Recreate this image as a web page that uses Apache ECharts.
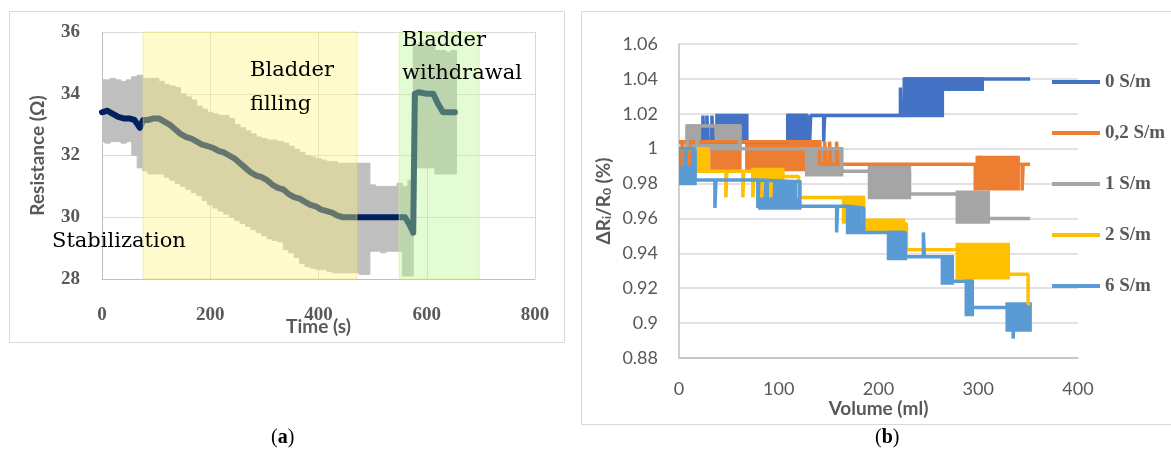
<!DOCTYPE html>
<html><head><meta charset="utf-8">
<script src="https://cdn.jsdelivr.net/npm/echarts/dist/echarts.min.js"></script>
<style>html,body{margin:0;padding:0;background:#fff}#c{width:1171px;height:457px}</style>
</head><body><div id="c"></div>
<script>
// ---------- Panel (a): resistance vs time ----------
const bandTime = [0,10,20,30,40,50,60,70,80,90,100,110,120,130,140,150,160,170,180,190,200,210,220,230,240,250,260,270,280,290,300,310,320,330,340,350,360,370,380,390,400,410,420,430,440,450,460,470,480,490,500,510,520,530,540,550,560,570,580,590,600,610,620,630,640,650];
const bandHigh = [34.45,34.45,34.5,34.45,34.4,34.45,34.55,34.6,34.5,34.5,34.5,34.4,34.3,34.25,34.2,34.0,33.9,33.8,33.6,33.5,33.4,33.35,33.3,33.3,33.2,33.0,32.9,32.8,32.7,32.6,32.55,32.5,32.5,32.45,32.4,32.3,32.2,32.1,32.0,31.95,31.9,31.85,31.8,31.8,31.75,31.75,31.75,31.75,31.75,31.75,31.05,31.0,31.0,31.0,31.0,31.1,31.0,31.2,35.6,35.65,35.6,35.6,35.4,35.4,35.35,35.4];
const bandLow = [32.45,32.4,32.45,32.45,32.4,32.45,32.0,31.6,31.5,31.4,31.4,31.4,31.3,31.2,31.1,31.0,30.9,30.8,30.7,30.55,30.4,30.3,30.2,30.1,30.0,29.9,29.8,29.7,29.6,29.5,29.4,29.3,29.25,29.2,28.95,28.85,28.7,28.5,28.4,28.35,28.3,28.3,28.25,28.2,28.2,28.2,28.2,28.2,28.15,28.15,28.9,28.9,28.85,28.9,28.9,28.9,28.1,28.1,31.6,31.6,31.6,31.6,31.4,31.4,31.4,31.4];
const meanTime = [0,10,20,30,40,50,60,66,70,76,85,95,105,115,125,135,145,155,165,175,185,195,205,215,225,235,245,255,265,275,285,295,305,315,325,335,345,355,365,375,385,395,405,415,425,435,445,460,480,500,520,540,560,570,575,578,585,600,612,620,630,652];
const meanRes = [33.4,33.45,33.35,33.25,33.2,33.2,33.15,33.0,32.9,33.15,33.15,33.2,33.2,33.1,33.0,32.85,32.7,32.6,32.55,32.45,32.35,32.3,32.25,32.15,32.1,32.0,31.9,31.75,31.6,31.45,31.35,31.3,31.2,31.05,30.95,30.9,30.75,30.65,30.6,30.5,30.4,30.35,30.25,30.2,30.15,30.05,30.0,30.0,30.0,30.0,30.0,30.0,30.0,29.7,29.5,34.0,34.05,34.0,34.0,33.7,33.4,33.4];
const phaseRegions = [[76,471],[549,697]];
const timeTicks = [0,200,400,600,800];
const resTicks = [28,30,32,34,36];

// ---------- Panel (b): ΔRi/R0 vs volume ----------
const seriesNames = ['0 S/m','0,2 S/m','1 S/m','2 S/m','6 S/m'];
// step traces [volume, value]
const line0 = [[0,1.004],[24,1.019],[25,1.004],[28,1.019],[29,1.004],[33,1.019],[34,1.004],[38,1.004],[68,1.004],[109,1.019],[128,1.004],[129,1.019],[131,1.004],[132,1.019],[145,1.004],[146,1.019],[222,1.035],[223,1.019],[226,1.04],[304,1.04],[352,1.04]];
const line02 = [[0,1.004],[3,0.99],[4,1.004],[10,0.99],[11,1.004],[33,1.004],[61,1.004],[68,1.004],[141,0.991],[146,1.004],[147,0.991],[151,1.004],[152,0.991],[158,1.004],[159,0.991],[297,0.976],[298,0.991],[302,0.996],[303,0.991],[344,0.976],[345,0.991],[352,0.991]];
const line1 = [[8,1.0],[9,1.013],[18,1.0],[19,1.013],[28,1.013],[61,1.0],[128,1.0],[163,0.987],[191,0.987],[231,0.974],[279,0.974],[310,0.96],[352,0.96]];
const line2 = [[0,1.0],[29,0.987],[47,0.972],[48,0.987],[64,0.972],[65,0.987],[74,0.972],[75,0.987],[83,0.972],[84,0.987],[92,0.972],[93,0.987],[104,0.984],[120,0.972],[165,0.972],[185,0.957],[228,0.942],[279,0.942],[330,0.928],[350,0.911],[352,0.911]];
const line6 = [[0,1.0],[16,0.982],[36,0.966],[37,0.982],[79,0.966],[80,0.982],[81,0.981],[121,0.967],[158,0.952],[159,0.967],[169,0.966],[185,0.952],[210,0.952],[227,0.938],[245,0.952],[246,0.938],[264,0.938],[274,0.924],[288,0.924],[294,0.909],[329,0.909],[335,0.891],[336,0.909],[352,0.909]];
// dense-flicker blocks [volStart, volEnd, low, high]
const blocks0 = [[38,68,1.004,1.019],[109,128,1.004,1.019],[226,264,1.019,1.04],[264,304,1.034,1.04]];
const blocks02 = [[33,61,0.988,1.004],[68,141,0.988,1.004],[299,340,0.977,0.995]];
const blocks1 = [[8,28,1.0,1.013],[28,61,1.0,1.013],[128,163,0.985,1.0],[191,231,0.972,0.989],[279,310,0.958,0.975]];
const blocks2 = [[0,29,0.987,1.0],[74,104,0.982,0.988],[165,185,0.958,0.972],[185,225,0.953,0.959],[279,330,0.926,0.945]];
const blocks6 = [[0,16,0.98,1.0],[81,121,0.966,0.981],[169,185,0.952,0.966],[210,227,0.937,0.952],[264,274,0.923,0.938],[288,294,0.905,0.924],[329,352,0.896,0.911]];
const volTicks = [0,100,200,300,400];

const colors = ['#4472C4','#ED7D31','#A5A5A5','#FFC000','#5B9BD5'];
const lines = [line0,line02,line1,line2,line6];
const blocks = [blocks0,blocks02,blocks1,blocks2,blocks6];

const chart = echarts.init(document.getElementById('c'), null, {renderer:'canvas'});
const grey = '#595959';

function blockRender(color){
  return function(params, api){
    const p1 = api.coord([api.value(0), api.value(3)]);
    const p2 = api.coord([api.value(1), api.value(2)]);
    return {type:'rect', shape:{x:p1[0], y:p1[1], width:p2[0]-p1[0], height:p2[1]-p1[1]},
      style:{fill:color, stroke:color, lineWidth:3.5}};
  };
}

const series = [];
// panel a band (error bars)
series.push({
  type:'custom', name:'band', xAxisIndex:0, yAxisIndex:0, clip:true, z:2,
  data: bandTime.map((t,i)=>[t, bandLow[i], bandHigh[i]]),
  encode:{x:0, y:[1,2]},
  renderItem: function(params, api){
    const p1 = api.coord([api.value(0)-5, api.value(2)]);
    const p2 = api.coord([api.value(0)+5, api.value(1)]);
    return {type:'rect', shape:{x:p1[0], y:p1[1], width:p2[0]-p1[0], height:p2[1]-p1[1]}, style:{fill:'#bfbfbf', stroke:'#bfbfbf', lineWidth:1}};
  }
});
series.push({
  type:'line', name:'mean', xAxisIndex:0, yAxisIndex:0, showSymbol:false, symbol:'none', z:3,
  data: meanTime.map((t,i)=>[t, meanRes[i]]),
  lineStyle:{color:'#002060', width:6, cap:'round', join:'round'}
});
series.push({
  type:'line', name:'phases', xAxisIndex:0, yAxisIndex:0, data:[], z:10,
  markArea:{silent:true, z:10, data:[
    [{xAxis:phaseRegions[0][0], itemStyle:{color:'rgba(255,245,130,0.4)', borderColor:'rgba(240,220,100,0.5)', borderWidth:1}},{xAxis:phaseRegions[0][1]}],
    [{xAxis:phaseRegions[1][0], itemStyle:{color:'rgba(188,248,148,0.4)', borderColor:'rgba(240,230,120,0.6)', borderWidth:1}},{xAxis:phaseRegions[1][1]}]
  ]}
});
// panel b
for (let k=0;k<5;k++){
  series.push({
    type:'line', name:seriesNames[k], xAxisIndex:1, yAxisIndex:1, step:'end', symbol:'none', showSymbol:false,
    data: lines[k], color: colors[k],
    lineStyle:{color:colors[k], width:3.5}
  });
  series.push({
    type:'custom', name:'blk'+k, xAxisIndex:1, yAxisIndex:1, clip:true,
    data: blocks[k], encode:{x:[0,1], y:[2,3]},
    renderItem: blockRender(colors[k])
  });
}

const option = {
  animation:false,
  backgroundColor:'#fff',
  grid:[
    {left:102, top:32, width:433, height:247, containLabel:false},
    {left:679, top:44, width:399, height:314, containLabel:false}
  ],
  xAxis:[
    {type:'value', gridIndex:0, min:timeTicks[0], max:timeTicks[timeTicks.length-1], interval:200,
     axisLine:{show:true, lineStyle:{color:'#bfbfbf', width:1}}, axisTick:{show:false},
     splitLine:{show:true, lineStyle:{color:'#d9d9d9'}},
     axisLabel:{fontFamily:'Liberation Serif', fontWeight:'bold', fontSize:19, color:grey, margin:27},
     name:'Time (s)', nameLocation:'middle', nameGap:38, nameMoveOverlap:false,
     nameTextStyle:{fontFamily:'Lato', fontWeight:'bold', fontSize:19, color:grey}},
    {type:'value', gridIndex:1, min:volTicks[0], max:volTicks[volTicks.length-1], interval:100,
     axisLine:{show:true, lineStyle:{color:'#bfbfbf', width:1.5}}, axisTick:{show:false},
     splitLine:{show:false},
     axisLabel:{fontFamily:'Lato', fontSize:18, color:grey, margin:22},
     name:'Volume (ml)', nameLocation:'middle', nameGap:41, nameMoveOverlap:false,
     nameTextStyle:{fontFamily:'Lato', fontWeight:'bold', fontSize:19, color:grey}}
  ],
  yAxis:[
    {type:'value', gridIndex:0, min:resTicks[0], max:resTicks[resTicks.length-1], interval:2,
     axisLine:{show:true, lineStyle:{color:'#bfbfbf', width:1}}, axisTick:{show:false},
     splitLine:{show:true, lineStyle:{color:'#d9d9d9'}},
     axisLabel:{fontFamily:'Liberation Serif', fontWeight:'bold', fontSize:19, color:grey, margin:22},
     name:'Resistance (Ω)', nameLocation:'middle', nameGap:55, nameMoveOverlap:false,
     nameTextStyle:{fontFamily:'Lato', fontWeight:'bold', fontSize:19, color:grey}},
    {type:'value', gridIndex:1, min:0.88, max:1.06, interval:0.02,
     axisLine:{show:true, lineStyle:{color:'#bfbfbf', width:1.5}}, axisTick:{show:false},
     splitLine:{show:true, lineStyle:{color:'#d9d9d9', width:1.5}},
     axisLabel:{fontFamily:'Lato', fontSize:18, color:grey, margin:21},
     name:'{m|ΔR}{s|i}{m|/R}{s|0}{m| (%)}', nameLocation:'middle', nameGap:66, nameMoveOverlap:false,
     nameTextStyle:{rich:{
       m:{fontFamily:'Lato', fontWeight:'bold', fontSize:19, color:grey, lineHeight:24, verticalAlign:'bottom'},
       s:{fontFamily:'Lato', fontWeight:'bold', fontSize:12, color:grey, lineHeight:12, verticalAlign:'bottom'}
     }}}
  ],
  legend:{
    show:true, orient:'vertical', left:1047, top:67, selectedMode:false,
    itemWidth:48, itemHeight:4, itemGap:31,
    data: seriesNames.map(n=>({name:n, icon:'rect'})),
    textStyle:{fontFamily:'Liberation Serif', fontWeight:'bold', fontSize:19, color:grey, lineHeight:20}
  },
  graphic:[
    {type:'rect', z:100, shape:{x:9.5, y:11.5, width:555, height:331}, style:{fill:null, stroke:'#d9d9d9', lineWidth:1}},
    {type:'rect', z:100, shape:{x:581.5, y:11.5, width:700, height:413}, style:{fill:null, stroke:'#d9d9d9', lineWidth:1}},
    {type:'text', z:100, left:52, top:231, style:{text:'Stabilization', font:'21px "DejaVu Serif"', fill:'#000'}},
    {type:'text', z:100, left:250, top:54, style:{text:'Bladder\nfilling', font:'21px "DejaVu Serif"', fill:'#000', lineHeight:34}},
    {type:'text', z:100, left:402, top:24, style:{text:'Bladder\nwithdrawal', font:'21px "DejaVu Serif"', fill:'#000', lineHeight:33}},
    {type:'text', z:100, left:271, top:428, style:{text:'{n|(}{b|a}{n|)}', rich:{n:{font:'20px "Liberation Serif"', fill:'#000'}, b:{font:'bold 20px "Liberation Serif"', fill:'#000'}}}},
    {type:'text', z:100, left:875, top:428, style:{text:'{n|(}{b|b}{n|)}', rich:{n:{font:'20px "Liberation Serif"', fill:'#000'}, b:{font:'bold 20px "Liberation Serif"', fill:'#000'}}}}
  ],
  series: series
};
chart.setOption(option);
</script></body></html>
